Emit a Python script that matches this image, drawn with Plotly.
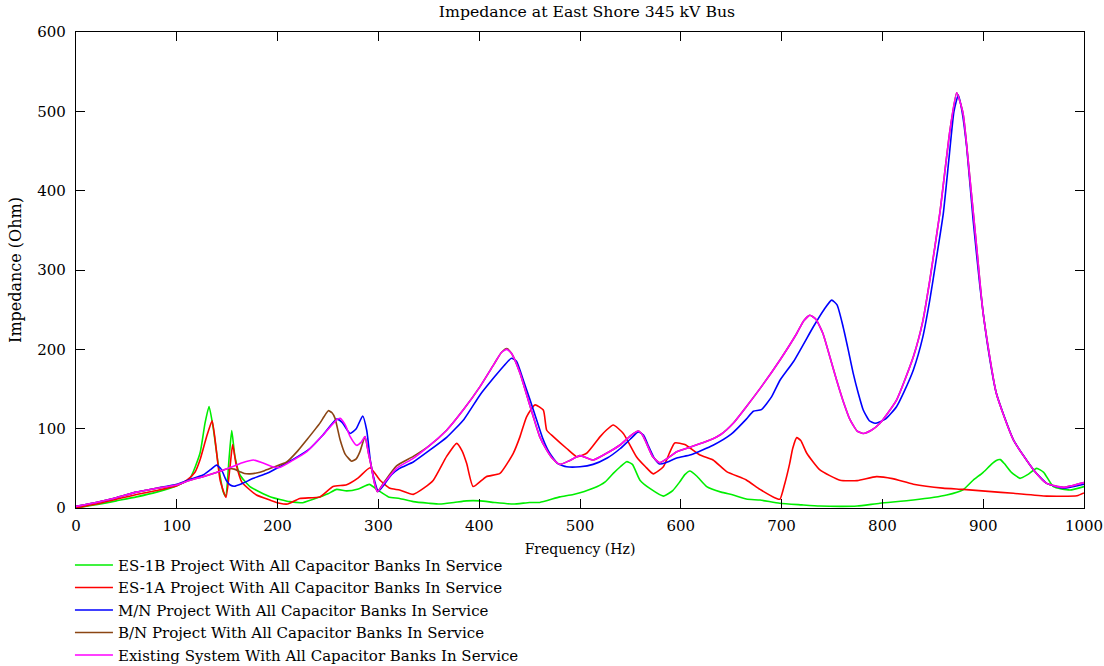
import plotly.graph_objects as go

# ---------------- data ----------------
names = [
    "ES-1B Project With All Capacitor Banks In Service",
    "ES-1A Project With All Capacitor Banks In Service",
    "M/N Project With All Capacitor Banks In Service",
    "B/N Project With All Capacitor Banks In Service",
    "Existing System With All Capacitor Banks In Service",
]
colors = ["#00EE00", "#FF0000", "#0000FF", "#8B4513", "#FF00FF"]

es1b_f = [0, 20, 40, 60, 80, 100, 113, 123, 128, 132, 136, 141, 146, 148.5, 152, 154.5, 157.7, 162.7, 172.6,
          192.5, 212, 225, 242, 250, 258.6, 268.5, 280, 291, 300, 310, 321, 334.6, 350, 361, 375, 387.6, 400.8,
          415, 433.8, 450, 460, 480, 493.4, 513, 525, 533, 540, 546.3, 552, 559.5, 570, 582.7, 592, 599, 604,
          609, 616, 625.7, 640, 652, 665, 678.6, 698, 720, 738, 760, 775, 797.6, 830.7, 863.8, 880, 890, 900,
          908, 913, 917, 921, 928, 936.5, 944, 953, 960, 969.6, 986, 1000]
es1b_z = [0, 4, 9, 14, 20, 28, 37.4, 69, 107, 128, 102, 56, 20.6, 15, 64.7, 97.5, 64.7, 41.6, 27,
          14.3, 8, 6.7, 14, 18, 23.5, 21.6, 24, 29.8, 22, 14, 12, 8, 6, 5, 7, 9, 9,
          7, 5, 7, 7, 14, 17, 24.8, 33, 43.7, 52, 58.4, 55, 35, 24, 15, 22, 33, 42,
          46.6, 40, 27, 20, 16.4, 11.3, 10, 6, 4, 2.5, 2, 2.5, 6, 10, 16.4, 23, 35, 45,
          55, 60, 61, 56, 45, 37.4, 42, 50, 45, 27, 22.7, 27]

es1a_f = [0, 20, 40, 60, 80, 100, 110, 118, 123, 129.6, 135, 138, 143, 148.8, 152.8, 155.4, 158.7, 164.4,
          172.6, 179, 192.5, 202, 210, 222, 242, 255, 268.5, 280, 291.7, 301.6, 311.5, 321, 334.6, 345,
          354.5, 367.7, 377.7, 383, 387.6, 394, 407, 420.6, 433.8, 440.5, 447, 455.4, 463.6, 467, 473.5,
          486.8, 496.7, 506.6, 520, 526, 533, 543, 556, 565, 572.7, 582.7, 589, 594, 604, 619, 632, 645.5,
          665, 678.6, 695, 698.4, 703, 708, 711, 715, 719, 725, 738, 758, 775, 794, 810, 830.7, 860, 880,
          905, 930, 963, 993, 1000]
es1a_z = [0, 5, 11, 17, 22, 28, 35, 45, 60.5, 90, 110, 86, 35, 13.4, 52, 80, 56, 33,
          22.7, 16.4, 10, 6, 5, 12, 14, 27, 29.4, 38, 50.8, 35, 24.8, 22.7, 17.2, 25,
          35, 65, 81.5, 72, 56, 27, 39.5, 43.7, 69, 90, 115, 130, 123.5, 98, 90,
          75, 64.7, 69, 90, 98, 104.6, 94, 64.7, 52, 43, 52, 70, 82, 80, 66.8, 60.5, 45.8,
          35.3, 23.5, 12, 11, 30, 56, 75, 88.7, 85, 69, 48, 35, 34.5, 39.5, 37, 30, 25, 23.5,
          21, 18.5, 15, 15.5, 19]

mn_f = [0, 20, 40, 60, 80, 100, 113, 126, 133, 139.5, 144, 149, 153, 157, 165, 176, 190, 202, 215, 232,
        245, 258.6, 264, 271.8, 278, 284.4, 288.4, 292, 295, 300, 306, 313, 321, 334.6, 350, 367.7, 385,
        400.8, 415, 425, 432, 437, 443.8, 450, 457, 463, 470, 478, 486.8, 500, 513, 527, 540, 550, 557.8,
        563, 568, 574, 579, 585, 596, 610, 632, 650, 665, 672, 680, 690, 698.4, 712, 731.5, 742, 749.7,
        755, 761, 766, 771, 776, 781, 787, 792.7, 803, 814, 822, 830.7, 840, 847, 853, 860.4, 866, 871,
        875.3, 879, 883.6, 890, 896.8, 905, 913, 930, 950, 963, 979.5, 1000]
mn_z = [2, 7, 13, 20, 25, 30, 36, 41.5, 48, 54, 49, 35, 29, 27.5, 31, 37.4, 44, 52, 61, 75,
        92, 112, 108, 94, 100, 116, 98, 60, 40, 21, 30, 42, 50, 58, 72, 89, 112,
        142.5, 165, 180, 188.7, 185, 161, 138, 111, 88, 69, 56, 52, 52, 55, 63, 75, 87, 96,
        92, 78, 62, 55.5, 57, 63, 67, 79, 93, 112, 122, 124, 140, 161, 185, 228.5, 250, 262,
        256, 228.5, 200, 170, 145, 123.5, 110, 106.8, 112, 127.7, 148, 174, 215, 262, 310, 371, 440, 500,
        520.6, 500, 455, 363, 279, 200, 145, 86, 48, 31, 25, 30]

bn_f = [0, 20, 40, 60, 80, 100, 113, 126, 140, 150, 157, 163, 167, 172.6, 179, 187, 195, 209, 220, 229,
        242, 246, 250.3, 254, 257, 262, 267, 273.5, 278, 281.7, 286.7, 290, 293, 296, 299, 306, 318, 334.6,
        350, 367.7, 385, 400.8, 415, 422, 427.3, 432, 440.5, 447, 453.7, 460, 467, 473, 480, 490, 500,
        513, 525, 539.7, 550, 557.8, 562, 566, 572, 579, 586, 596, 610, 629, 640, 652, 665, 680, 698.4,
        715, 722, 728, 734, 741, 748, 754.6, 761, 768, 775, 781, 789, 797.6, 814, 830.7, 840, 847, 857,
        867, 873.7, 880, 887, 893.5, 900, 913, 930, 950, 963, 979.5, 1000]
bn_z = [2, 7, 13, 20, 25, 29, 35, 39.5, 45, 49.5, 49, 45.5, 43.5, 43, 44, 47, 51, 58, 72, 86,
        107, 115, 122.7, 120, 113, 86, 68, 59, 62, 71, 90, 70, 52, 32, 20.6, 33, 53, 65,
        78, 98, 125, 153, 182, 196, 201, 195, 170, 143, 115, 90, 73, 62, 55, 60, 66,
        60.5, 68, 79.4, 91, 97, 92, 81.5, 65, 57, 62, 71, 77, 85.7, 93, 106.8, 127.7, 153, 186.6,
        220, 236, 243, 238, 220, 190, 161, 135, 111, 97, 94, 98, 106.8, 136, 190.7, 235, 287, 372,
        476, 523.5, 497.5, 413, 329, 245, 144.6, 85.7, 48, 31, 26, 32]

ex_f = [0, 20, 40, 60, 80, 100, 113, 126, 140, 153, 165, 176, 185, 195, 202, 215, 229, 245, 258.6, 262,
        267, 272, 278.4, 283, 286.7, 290, 293, 296, 299, 306, 318, 334.6, 350, 367.7, 385, 400.8, 415,
        422, 427.3, 432, 440.5, 447, 453.7, 460, 467, 473, 480, 490, 500, 513, 525, 539.7, 550, 557.8,
        562, 566, 572, 579, 586, 596, 610, 629, 640, 652, 665, 680, 698.4, 715, 722, 728, 734, 741, 748,
        754.6, 761, 768, 775, 781, 789, 797.6, 814, 830.7, 840, 847, 857, 867, 873.7, 880, 887, 893.5,
        900, 913, 930, 950, 963, 979.5, 1000]
ex_z = [2, 7, 13, 20, 25, 29, 35, 39.5, 45, 51, 57, 60.5, 57, 52, 51, 60, 71, 92, 111, 113,
        105, 90, 79, 83, 90, 70, 52, 32, 20.6, 32, 50, 62.6, 78, 98, 125, 153, 182,
        196, 200, 195, 170, 143, 115, 90, 73, 62, 55, 60, 66, 60.5, 68, 79.4, 91, 97,
        92, 81.5, 65, 57, 62, 71, 77, 85.7, 93, 106.8, 127.7, 153, 186.6, 220, 236, 243, 238, 220, 190,
        161, 135, 111, 97, 94, 98, 106.8, 136, 190.7, 235, 287, 372, 476, 523.5, 497.5, 413, 329,
        245, 144.6, 85.7, 48, 31, 26, 32]

x_ticks = [0, 100, 200, 300, 400, 500, 600, 700, 800, 900, 1000]
y_ticks = [0, 100, 200, 300, 400, 500, 600]

series = [(es1b_f, es1b_z), (es1a_f, es1a_z), (mn_f, mn_z), (bn_f, bn_z), (ex_f, ex_z)]

# ---------------- figure ----------------
FONT = "DejaVu Serif"
fig = go.Figure()
for (f, z), name, col in zip(series, names, colors):
    fig.add_trace(go.Scatter(x=f, y=z, mode="lines", name=name,
                             line=dict(color=col, width=1.6, shape="spline", smoothing=0.5)))

axis_common = dict(showline=True, linecolor="black", linewidth=1.2, mirror="ticks",
                   ticks="inside", ticklen=9, tickwidth=1.2, tickcolor="black",
                   showgrid=False, zeroline=False, automargin=False,
                   tickfont=dict(family=FONT, size=15, color="black"))

fig.update_layout(
    width=1104, height=666,
    margin=dict(l=76, r=20, t=32, b=158, autoexpand=False),
    paper_bgcolor="white", plot_bgcolor="white",
    title=dict(text="Impedance at East Shore 345 kV Bus", x=0.5317, xanchor="center",
               y=0.982, yanchor="middle", font=dict(family=FONT, size=15.7, color="black")),
    xaxis=dict(range=[0, 1000], tickvals=x_ticks, ticklabelstandoff=4,
               title=dict(text="Frequency (Hz)", font=dict(family=FONT, size=14, color="black"),
                          standoff=10),
               **axis_common),
    yaxis=dict(range=[0, 600], tickvals=y_ticks, ticklabelstandoff=6,
               title=dict(text="Impedance (Ohm)", font=dict(family=FONT, size=16, color="black"),
                          standoff=11),
               **axis_common),
    legend=dict(x=-0.006, xanchor="left", y=-0.0856, yanchor="top", orientation="v",
                font=dict(family=FONT, size=15, color="black"), bgcolor="rgba(0,0,0,0)",
                tracegroupgap=0, itemwidth=38),
    showlegend=True,
)

fig.write_html("out.html")
